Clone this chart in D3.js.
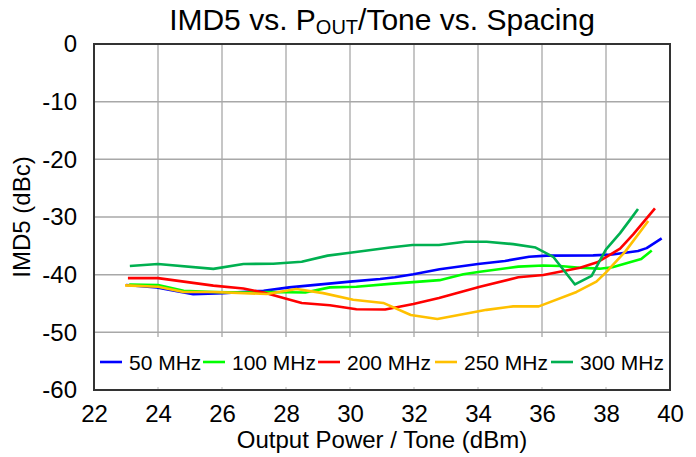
<!DOCTYPE html>
<html><head><meta charset="utf-8">
<script src="https://cdn.jsdelivr.net/npm/d3@7"></script>
<style>
html,body{margin:0;padding:0;background:#fff;}
text{font-family:"Liberation Sans",Arial,sans-serif;fill:#000;}
</style></head>
<body><svg id="chart" width="696" height="457"></svg>
<script>
const seriesNames = ["50 MHz","100 MHz","200 MHz","250 MHz","300 MHz"];
const seriesColors = ["#0000FF","#00FF00","#FF0000","#FFC000","#00B050"];
const xTicks = [22,24,26,28,30,32,34,36,38,40];
const yTicks = [0,-10,-20,-30,-40,-50,-60];

const x50  = [23.0,23.96,25.1,26.04,27.3,28.1,30.0,30.94,31.4,31.98,32.8,34.0,34.84,35.6,36.15,37.6,38.2,39.0,39.27,39.74];
const y50  = [-41.8,-42.2,-43.4,-43.2,-42.8,-42.2,-41.2,-40.75,-40.46,-39.94,-39.07,-38.15,-37.63,-36.88,-36.7,-36.65,-36.5,-35.9,-35.4,-33.7];
const x100 = [23.1,24.0,24.8,25.73,26.67,27.5,28.6,29.37,30.2,31.25,32.8,33.54,34.06,35.26,36.04,36.56,37.19,37.8,38.2,39.1,39.43];
const y100 = [-41.7,-41.8,-42.8,-43.0,-43.1,-43.0,-43.1,-42.2,-42.1,-41.6,-40.95,-39.94,-39.5,-38.6,-38.4,-38.5,-38.8,-38.96,-38.7,-37.3,-35.8];
const x200 = [23.06,24.0,25.73,26.67,27.3,28.49,29.37,30.2,31.1,31.98,32.78,34.06,35.26,36.04,37.19,37.75,38.44,38.85,39.53];
const y200 = [-40.6,-40.6,-41.9,-42.4,-43.1,-44.9,-45.3,-46.0,-46.05,-45.1,-44.05,-42.1,-40.46,-40.05,-38.8,-37.8,-35.5,-33.0,-28.5];
const x250 = [22.97,24.0,24.8,25.73,27.4,28.33,29.16,30.1,31.04,31.9,32.73,34.27,35.1,35.9,37.08,37.7,38.0,38.6,39.32];
const y250 = [-41.85,-42.1,-43.0,-43.0,-43.35,-42.5,-43.2,-44.35,-44.9,-47.0,-47.7,-46.1,-45.5,-45.5,-43.0,-41.2,-39.6,-36.0,-30.7];
const x300 = [23.12,24.0,25.73,26.67,27.6,28.49,29.3,30.0,31.25,31.95,32.78,33.6,34.27,35.1,35.8,36.35,37.03,37.55,38.0,38.44,38.75,39.0];
const y300 = [-38.5,-38.15,-39.0,-38.15,-38.1,-37.75,-36.7,-36.2,-35.3,-34.85,-34.85,-34.3,-34.3,-34.7,-35.3,-36.9,-41.7,-40.2,-35.6,-32.8,-30.5,-28.6];

const seriesX = [x50,x100,x200,x250,x300];
const seriesY = [y50,y100,y200,y250,y300];

const L=94, R=670, T=44, B=390;
const FONT = "Liberation Sans, Arial, sans-serif";
const svg = d3.select("#chart");
const xs = d3.scaleLinear().domain([22,40]).range([L,R]);
const ys = d3.scaleLinear().domain([0,-60]).range([T,B]);

// gridlines
svg.append("g").selectAll("line").data(xTicks.slice(1,-1)).join("line")
  .attr("x1",d=>xs(d)).attr("x2",d=>xs(d)).attr("y1",T).attr("y2",B)
  .attr("stroke","#c6c6c6").attr("stroke-width",2);
svg.append("g").selectAll("line").data(yTicks.slice(1,-1)).join("line")
  .attr("x1",L).attr("x2",R).attr("y1",d=>ys(d)).attr("y2",d=>ys(d))
  .attr("stroke","#a8a8a8").attr("stroke-width",1.5);

// series
const line = d3.line().x(d=>xs(d[0])).y(d=>ys(d[1]));
seriesNames.forEach((n,i)=>{
  const pts = seriesX[i].map((v,j)=>[v,seriesY[i][j]]);
  svg.append("path").datum(pts).attr("d",line).attr("fill","none")
    .attr("stroke",seriesColors[i]).attr("stroke-width",2.6).attr("stroke-linejoin","round");
});

// legend box
const legTop = 337;
svg.append("rect").attr("x",L).attr("y",legTop).attr("width",R-L).attr("height",B-legTop).attr("fill","#fff");
svg.append("g").selectAll("line").data(xTicks.slice(1,-1)).join("line")
  .attr("x1",d=>xs(d)).attr("x2",d=>xs(d)).attr("y1",B-3).attr("y2",B)
  .attr("stroke","#d0d0d0").attr("stroke-width",1.5);
const leg = svg.append("g");
const legLineStarts = [100,203,318,435,551];
seriesNames.forEach((n,i)=>{
  const x0 = legLineStarts[i];
  leg.append("line").attr("x1",x0).attr("x2",x0+22).attr("y1",362).attr("y2",362)
    .attr("stroke",seriesColors[i]).attr("stroke-width",2.6);
  leg.append("text").attr("x",x0+29).attr("y",362).attr("dy","0.36em")
    .attr("font-size",21).text(n);
});

// frame
svg.append("rect").attr("x",L).attr("y",T).attr("width",R-L).attr("height",B-T)
  .attr("fill","none").attr("stroke","#333").attr("stroke-width",2);

// axes labels
const fmt = d => String(d);
const xAxis = d3.axisBottom(xs).tickValues(xTicks).tickFormat(fmt).tickSize(0).tickPadding(15);
const gx = svg.append("g").attr("transform",`translate(0,${B})`).call(xAxis);
gx.select(".domain").remove();
gx.selectAll("text").attr("font-size",24).attr("font-family",FONT).attr("fill","#000");
const yAxis = d3.axisLeft(ys).tickValues(yTicks).tickFormat(fmt).tickSize(0).tickPadding(17);
const gy = svg.append("g").attr("transform",`translate(${L},0)`).call(yAxis);
gy.select(".domain").remove();
gy.selectAll("text").attr("font-size",24).attr("font-family",FONT).attr("fill","#000");

// titles
const title = svg.append("text").attr("x",(L+R)/2).attr("y",30).attr("text-anchor","middle").attr("font-size",30);
title.append("tspan").text("IMD5 vs. P");
title.append("tspan").attr("font-size",20).attr("dy",4).text("OUT");
title.append("tspan").attr("dy",-4).text("/Tone vs. Spacing");

svg.append("text").attr("x",(L+R)/2).attr("y",448).attr("text-anchor","middle").attr("font-size",24)
  .text("Output Power / Tone (dBm)");
svg.append("text").attr("transform","translate(30,217) rotate(-90)").attr("text-anchor","middle").attr("font-size",24)
  .text("IMD5 (dBc)");
</script></body></html>
